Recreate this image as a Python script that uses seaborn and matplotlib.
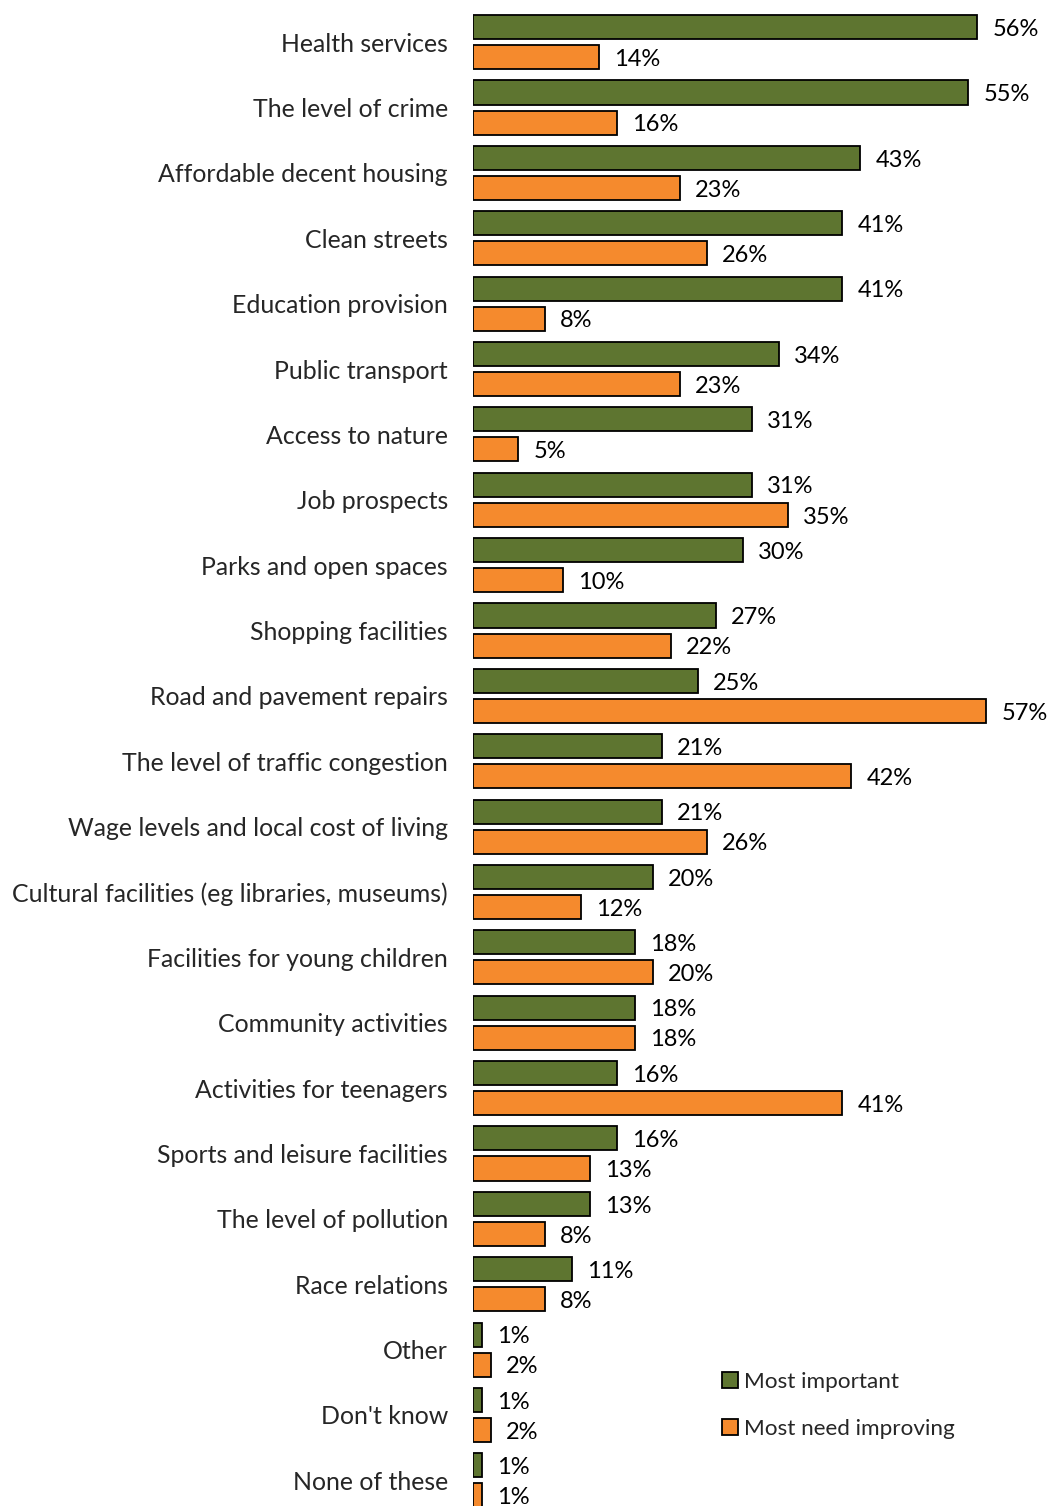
import matplotlib
matplotlib.use("Agg")
import matplotlib.pyplot as plt
import seaborn as sns
import pandas as pd
from matplotlib.patches import Patch

categories = ["Health services", "The level of crime", "Affordable decent housing",
              "Clean streets", "Education provision", "Public transport",
              "Access to nature", "Job prospects", "Parks and open spaces",
              "Shopping facilities", "Road and pavement repairs",
              "The level of traffic congestion", "Wage levels and local cost of living",
              "Cultural facilities (eg libraries, museums)", "Facilities for young children",
              "Community activities", "Activities for teenagers",
              "Sports and leisure facilities", "The level of pollution",
              "Race relations", "Other", "Don't know", "None of these"]
most_important = [56, 55, 43, 41, 41, 34, 31, 31, 30, 27, 25, 21, 21, 20, 18, 18, 16, 16, 13, 11, 1, 1, 1]
most_need_improving = [14, 16, 23, 26, 8, 23, 5, 35, 10, 22, 57, 42, 26, 12, 20, 18, 41, 13, 8, 8, 2, 2, 1]
series_names = ["Most important", "Most need improving"]
colors = ["#5E7530", "#F58A2D"]

df = pd.DataFrame({
    "category": categories * 2,
    "value": most_important + most_need_improving,
    "series": [series_names[0]] * len(categories) + [series_names[1]] * len(categories),
})

sns.set_theme(style="white")
plt.rcParams["font.family"] = ["Lato", "DejaVu Sans"]

fig = plt.figure(figsize=(10.47, 15.06), dpi=100)
W, H = 1047, 1506
ax_left, ax_right = 473, 1047
ax_top, ax_bottom = 9.5, 1513
ax = fig.add_axes([ax_left / W, 1 - ax_bottom / H, (ax_right - ax_left) / W, (ax_bottom - ax_top) / H])

sns.barplot(data=df, y="category", x="value", hue="series", order=categories,
            hue_order=series_names, palette=colors, orient="h", width=0.92, gap=0.2,
            edgecolor="black", linewidth=1.3, ax=ax, legend=False, saturation=1)

for c in ax.containers:
    anns = ax.bar_label(c, labels=[f"{v:.0f}%" for v in c.datavalues], padding=11,
                        fontsize=17, color="black")
    for a in anns:
        a.xyann = (11, -1.6)

ax.set_xlim(0, 574 / 9.0)
ax.set_ylim(len(categories) - 0.5, -0.5)
ax.set_xlabel("")
ax.set_ylabel("")
ax.set_xticks([])
ax.tick_params(axis="y", length=0, pad=18, labelsize=17.9)
for s in ax.spines.values():
    s.set_visible(False)

handles = [Patch(facecolor=colors[i], edgecolor="black", linewidth=1.3, label=series_names[i]) for i in range(2)]
fig.legend(handles=handles, loc="upper left", bbox_to_anchor=(713 / W, 1 - 1363 / H),
           frameon=False, fontsize=16.2, handlelength=0.7, handleheight=0.7,
           handletextpad=0.3, labelspacing=1.2, borderaxespad=0)

fig.savefig("out.png", dpi=100)
